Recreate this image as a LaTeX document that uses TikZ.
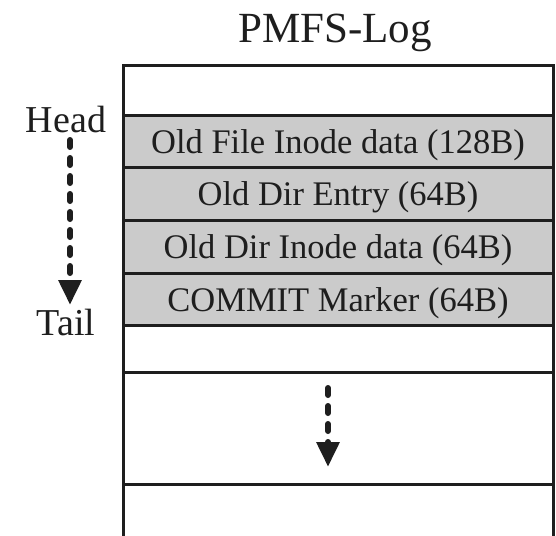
\documentclass[tikz,border=0pt]{standalone}
\usepackage{fontspec}
\setmainfont{Liberation Serif}
\usetikzlibrary{arrows.meta}
\definecolor{rowgray}{RGB}{203,203,203}
\definecolor{ink}{RGB}{30,30,30}
\tikzset{
  logrow/.style={draw=ink, line width=3pt, minimum width=430pt, inner sep=0pt, outer sep=0pt},
  grayrow/.style={logrow, fill=rowgray},
  whiterow/.style={logrow, fill=white},
  rowtext/.style={anchor=base, inner sep=0pt, font=\fontsize{34.5pt}{40pt}\selectfont, text=ink},
  sidelabel/.style={anchor=base, inner sep=0pt, font=\fontsize{38pt}{44pt}\selectfont, text=ink},
  titletext/.style={anchor=base, inner sep=0pt, font=\fontsize{43pt}{50pt}\selectfont, text=ink},
  dasharrow/.style={draw=ink, line width=6pt, line cap=round, dash pattern=on 7pt off 11pt,
     -{Triangle[width=22pt,length=25pt]}}
}
\begin{document}
\begin{tikzpicture}[x=1pt,y=-1pt]
\useasboundingbox (0,0) rectangle (556,535);
\clip (0,0) rectangle (556,535);
\node[titletext] (title) at (335,42) {PMFS-Log};
% rows
\node[whiterow, minimum height=50pt] (r0) at (338,90) {};
\node[whiterow, minimum height=47pt] (r5) at (338,348.5) {};
\node[whiterow, minimum height=112pt] (r6) at (338,428) {};
\node[whiterow, minimum height=76pt] (r7) at (338,522) {};
\node[grayrow, minimum height=52pt] (r1) at (338,141) {};
\node[grayrow, minimum height=53pt] (r2) at (338,193.5) {};
\node[grayrow, minimum height=53pt] (r3) at (338,246.5) {};
\node[grayrow, minimum height=52pt] (r4) at (338,299) {};
% row texts
\node[rowtext] (t1) at (338,153) {Old File Inode data (128B)};
\node[rowtext] (t2) at (338,205) {Old Dir Entry (64B)};
\node[rowtext] (t3) at (338,258) {Old Dir Inode data (64B)};
\node[rowtext] (t4) at (338,311) {COMMIT Marker (64B)};
% labels
\node[sidelabel] (head) at (66,132) {Head};
\node[sidelabel] (tail) at (66,335) {Tail};
% arrows
\coordinate (hs) at (70,140);
\coordinate (he) at (70,305);
\draw[dasharrow] (hs) -- (he);
\coordinate (gs) at (328,388);
\coordinate (ge) at (328,467);
\draw[dasharrow] (gs) -- (ge);
\end{tikzpicture}
\end{document}
